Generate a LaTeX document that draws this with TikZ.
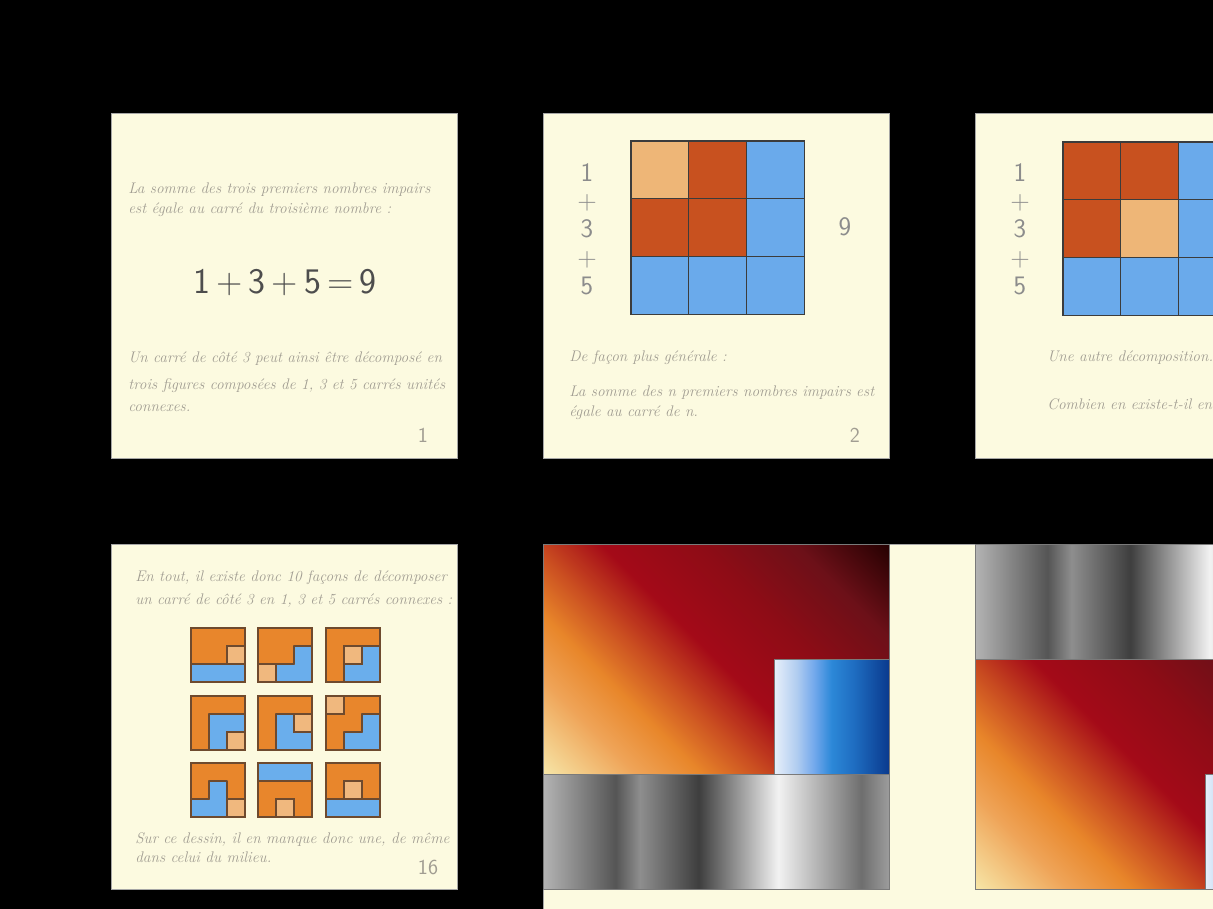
\documentclass[tikz,border=0pt]{standalone}
\usepackage{tikz}
\definecolor{cream}{HTML}{FCFAE0}
\definecolor{inkgray}{HTML}{A19D92}
\definecolor{numgray}{HTML}{8C8C8C}
\definecolor{eqgray}{HTML}{4D4D4D}
\definecolor{sqRust}{HTML}{C8511F}
\definecolor{sqTan}{HTML}{EEB677}
\definecolor{sqSky}{HTML}{6AAAEB}
\definecolor{gridline}{HTML}{3C3C3C}
\definecolor{figOrange}{HTML}{E8862C}
\definecolor{figLight}{HTML}{F0B87E}
\definecolor{figBlue}{HTML}{6AAEEC}
\definecolor{figline}{HTML}{6E4A2E}
\definecolor{boxrim}{HTML}{7A7A7A}
% ember gradient
\definecolor{emA}{HTML}{F6E3A4}
\definecolor{emB}{HTML}{EFA458}
\definecolor{emC}{HTML}{E8862A}
\definecolor{emD}{HTML}{C84A20}
\definecolor{emE}{HTML}{A40A18}
\definecolor{emF}{HTML}{8E0C16}
\definecolor{emG}{HTML}{6C1018}
\definecolor{emH}{HTML}{220000}
% steel bands
\definecolor{stA}{HTML}{B4B4B4}
\definecolor{stB}{HTML}{555555}
\definecolor{stC}{HTML}{8E8E8E}
\definecolor{stD}{HTML}{3E3E3E}
\definecolor{stE}{HTML}{F2F2F2}
\definecolor{stF}{HTML}{6E6E6E}
\definecolor{stG}{HTML}{9C9C9C}
% ice bands
\definecolor{icA}{HTML}{E8F0FA}
\definecolor{icB}{HTML}{B0CCF0}
\definecolor{icC}{HTML}{72A8EC}
\definecolor{icD}{HTML}{2C88D8}
\definecolor{icE}{HTML}{1E6CC0}
\definecolor{icF}{HTML}{0A3A8E}
\pgfdeclarehorizontalshading{emberglow}{100bp}{color(0bp)=(emA); color(15bp)=(emA); color(26bp)=(emB); color(34bp)=(emC); color(42bp)=(emD); color(50bp)=(emE); color(62bp)=(emF); color(74bp)=(emG); color(86bp)=(emH); color(100bp)=(emH)}
\pgfdeclarehorizontalshading{steelband}{100bp}{color(0bp)=(stA); color(25bp)=(stA); color(35.5bp)=(stB); color(39bp)=(stC); color(47.5bp)=(stD); color(59bp)=(stE); color(71bp)=(stF); color(75bp)=(stG); color(100bp)=(stG)}
\pgfdeclarehorizontalshading{iceband}{100bp}{color(0bp)=(icA); color(25bp)=(icA); color(35bp)=(icB); color(42.5bp)=(icC); color(50bp)=(icD); color(60bp)=(icE); color(75bp)=(icF); color(100bp)=(icF)}
\tikzset{
slide/.style={fill=cream,draw=black!35,line width=0.6pt},
slidetext/.style={font=\fontsize{11.5}{14}\selectfont\itshape,text=inkgray,anchor=base west,inner sep=0pt},
eqtext/.style={font=\fontsize{27}{30}\selectfont\sffamily,text=eqgray,inner sep=0pt},
stacknum/.style={font=\fontsize{20}{24}\selectfont\sffamily,text=numgray,inner sep=0pt},
numstack/.style={stacknum,align=center,font=\fontsize{20}{21.2}\selectfont\sffamily},
pagenum/.style={font=\fontsize{16}{19}\selectfont\sffamily,text=inkgray,inner sep=0pt},
cellrim/.style={draw=gridline,line width=0.8pt},
figO/.style={fill=figOrange,draw=figline,line width=0.8pt,line join=round},
figB/.style={fill=figBlue,draw=figline,line width=0.8pt,line join=round},
figL/.style={fill=figLight,draw=figline,line width=0.8pt},
figrim/.style={draw=figline,line width=0.8pt},
ember/.style={shading=emberglow,shading angle=45,draw=boxrim,line width=0.6pt},
steel/.style={shading=steelband,draw=boxrim,line width=0.6pt},
ice/.style={shading=iceband,draw=boxrim,line width=0.6pt}
}
% one 3x3 tiling: position, orange path, blue path, light cell
\newcommand{\tile}[5]{%
  \begin{scope}[shift={(#1,#2)},scale=18]
    \draw[figB] #4 -- cycle;
    \draw[figO] #3 -- cycle;
    \draw[figL] (#5) rectangle ++(1,1);
    \draw[figrim] (0,0) rectangle (3,3);
  \end{scope}}
\begin{document}
\begin{tikzpicture}[x=0.75pt,y=0.75pt]
\useasboundingbox (0,0) rectangle (1213,-909);
\clip (0,0) rectangle (1213,-909);
\fill[black] (0,0) rectangle (1213,-909);

% slides
\path[slide] (111,-113) rectangle (457,-458);
\path[slide] (543,-113) rectangle (889,-458);
\path[slide] (975,-113) rectangle (1321,-458);
\path[slide] (111,-544) rectangle (457,-889);
\path[slide] (543,-544) rectangle (1220,-915);

% slide 1
\node[slidetext] (s1a) at (128,-194) {La somme des trois premiers nombres impairs};
\node[slidetext] (s1b) at (128,-214) {est égale au carré du troisième nombre :};
\node[eqtext] (s1eq) at (285,-283) {1\,+\,3\,+\,5\,=\,9};
\node[slidetext] (s1c) at (128,-362) {Un carré de côté 3 peut ainsi être décomposé en};
\node[slidetext] (s1d) at (128,-389) {trois figures composées de 1, 3 et 5 carrés unités};
\node[slidetext] (s1e) at (128,-411) {connexes.};
\node[pagenum] (p1) at (423,-435) {1};

% slide 2
\foreach \r/\cs in {0/{sqTan,sqRust,sqSky},1/{sqRust,sqRust,sqSky},2/{sqSky,sqSky,sqSky}}
  \foreach \cl [count=\k from 0] in \cs
    \draw[cellrim,fill=\cl] ({631+57.7*\k},{-141-57.7*\r}) rectangle ++(57.7,-57.7);
\node[numstack] (s2sum) at (587,-229) {1\\+\\3\\+\\5};
\node[stacknum] (s2tot) at (845,-227) {9};
\node[slidetext] (s2a) at (569,-361) {De façon plus générale :};
\node[slidetext] (s2b) at (569,-396) {La somme des n premiers nombres impairs est};
\node[slidetext] (s2c) at (569,-416) {égale au carré de n.};
\node[pagenum] (p2) at (855,-435) {2};

% slide 3
\foreach \r/\cs in {0/{sqRust,sqRust,sqSky},1/{sqRust,sqTan,sqSky},2/{sqSky,sqSky,sqSky}}
  \foreach \cl [count=\k from 0] in \cs
    \draw[cellrim,fill=\cl] ({1063+57.7*\k},{-142-57.7*\r}) rectangle ++(57.7,-57.7);
\node[numstack] (s3sum) at (1020,-229) {1\\+\\3\\+\\5};
\node[slidetext] (s3a) at (1047,-361) {Une autre décomposition.};
\node[slidetext] (s3b) at (1047,-409) {Combien en existe-t-il en};

% slide 16
\node[slidetext] (s4a) at (135,-581) {En tout, il existe donc 10 façons de décomposer};
\node[slidetext] (s4b) at (135,-604) {un carré de côté 3 en 1, 3 et 5 carrés connexes :};
\tile{191}{-682}{(0,1) -- (0,3) -- (3,3) -- (3,2) -- (2,2) -- (2,1)}{(0,0) -- (0,1) -- (3,1) -- (3,0)}{2,1}
\tile{258}{-682}{(0,1) -- (0,3) -- (3,3) -- (3,2) -- (2,2) -- (2,1)}{(1,0) -- (3,0) -- (3,2) -- (2,2) -- (2,1) -- (1,1)}{0,0}
\tile{326}{-682}{(0,0) -- (0,3) -- (3,3) -- (3,2) -- (1,2) -- (1,0)}{(1,0) -- (3,0) -- (3,2) -- (2,2) -- (2,1) -- (1,1)}{1,1}
\tile{191}{-750}{(0,0) -- (0,3) -- (3,3) -- (3,2) -- (1,2) -- (1,0)}{(1,0) -- (2,0) -- (2,1) -- (3,1) -- (3,2) -- (1,2)}{2,0}
\tile{258}{-750}{(0,0) -- (0,3) -- (3,3) -- (3,2) -- (1,2) -- (1,0)}{(1,0) -- (3,0) -- (3,1) -- (2,1) -- (2,2) -- (1,2)}{2,1}
\tile{326}{-750}{(1,3) -- (3,3) -- (3,2) -- (2,2) -- (2,1) -- (1,1) -- (1,0) -- (0,0) -- (0,2) -- (1,2)}{(1,0) -- (3,0) -- (3,2) -- (2,2) -- (2,1) -- (1,1)}{0,2}
\tile{191}{-817}{(0,1) -- (0,3) -- (3,3) -- (3,1) -- (2,1) -- (2,2) -- (1,2) -- (1,1)}{(0,0) -- (2,0) -- (2,2) -- (1,2) -- (1,1) -- (0,1)}{2,0}
\tile{258}{-817}{(0,0) -- (0,2) -- (3,2) -- (3,0) -- (2,0) -- (2,1) -- (1,1) -- (1,0)}{(0,2) -- (0,3) -- (3,3) -- (3,2)}{1,0}
\tile{326}{-817}{(0,1) -- (0,3) -- (3,3) -- (3,1) -- (2,1) -- (2,2) -- (1,2) -- (1,1)}{(0,0) -- (0,1) -- (3,1) -- (3,0)}{1,1}
\node[slidetext] (s4c) at (135,-843) {Sur ce dessin, il en manque donc une, de même};
\node[slidetext] (s4d) at (135,-862) {dans celui du milieu.};
\node[pagenum] (p16) at (428,-867) {16};

% gradient slides
\path[ember] (543,-544) rectangle (889,-774);
\path[ice] (774,-659) rectangle (889,-774);
\path[steel] (543,-774) rectangle (889,-889);
\path[steel] (975,-544) rectangle (1320,-659);
\path[ember] (975,-659) rectangle (1320,-889);
\path[ice] (1205,-774) rectangle (1320,-889);
\end{tikzpicture}
\end{document}
